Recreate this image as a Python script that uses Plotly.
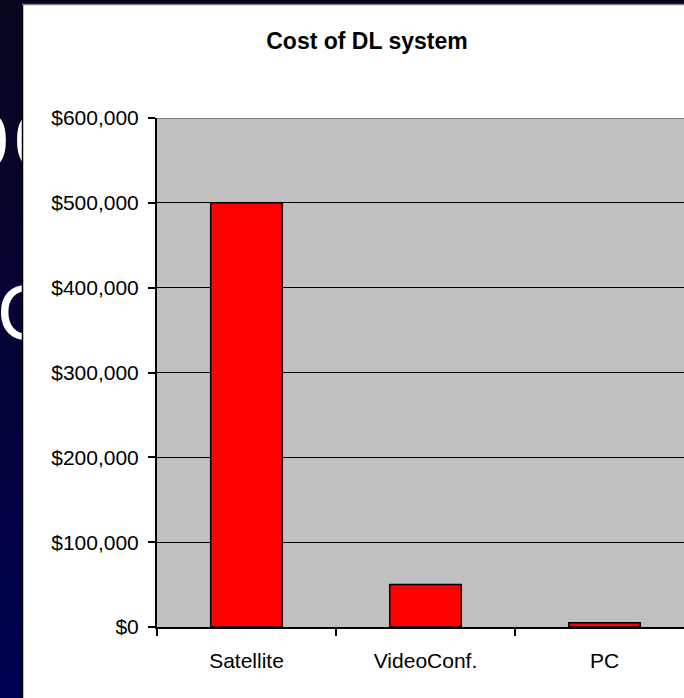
import plotly.graph_objects as go

# Chart data
categories = ["Satellite", "VideoConf.", "PC"]
costs = [500000, 50000, 5000]
y_ticks = [0, 100000, 200000, 300000, 400000, 500000, 600000]
y_tick_labels = ["$0", "$100,000", "$200,000", "$300,000",
                 "$400,000", "$500,000", "$600,000"]

# Slide backdrop: navy gradient strip and partly hidden slide text
strip_rows = list(range(0, 700, 2))
strip_levels = [r / 698 for r in strip_rows]
slide_text = ["0", "0", "C"]
slide_text_x = [9, 14, -3]
slide_text_y = [147, 147, 319]
slide_text_pos = ["middle left", "middle right", "middle right"]

W, H = 684, 698


def px(x):
    return x / W


def py(y):
    return 1 - y / H


fig = go.Figure()

fig.add_trace(go.Bar(
    x=categories,
    y=costs,
    marker=dict(color="#FF0000", line=dict(color="#000000", width=1.5)),
    width=0.4,
    xaxis="x",
    yaxis="y",
    hoverinfo="x+y",
))

fig.add_trace(go.Heatmap(
    z=[[v] for v in strip_levels],
    x0=11, dx=22,
    y=strip_rows,
    colorscale=[[0, "#07061E"], [0.5, "#040436"], [1, "#000052"]],
    showscale=False,
    xaxis="x2",
    yaxis="y2",
    hoverinfo="skip",
))

fig.add_trace(go.Scatter(
    x=slide_text_x,
    y=slide_text_y,
    mode="text",
    text=slide_text,
    textposition=slide_text_pos,
    textfont=dict(family="Liberation Sans", size=78, color="#FFFFFF"),
    cliponaxis=True,
    xaxis="x2",
    yaxis="y2",
    hoverinfo="skip",
))

fig.update_layout(
    template="none",
    width=W,
    height=H,
    autosize=False,
    margin=dict(l=0, r=0, t=0, b=0, pad=0),
    paper_bgcolor="#FFFFFF",
    plot_bgcolor="#C0C0C0",
    showlegend=False,
    font=dict(family="Liberation Sans", size=21, color="#000000"),
    title=dict(
        text="<b>Cost of DL system</b>",
        x=px(367), xref="paper", xanchor="center",
        y=py(41), yref="paper", yanchor="middle",
        font=dict(family="Liberation Sans", size=23, color="#000000"),
        automargin=False,
    ),
    xaxis=dict(
        domain=[px(157), 1],
        type="category",
        range=[-0.5, -0.5 + (W - 157) / 179],
        automargin=False,
        tickson="boundaries",
        ticks="outside",
        ticklen=7,
        tickwidth=2,
        tickcolor="#000000",
        showline=True,
        linecolor="#000000",
        linewidth=2,
        showgrid=False,
        zeroline=False,
        ticklabelstandoff=14,
        tickfont=dict(size=21),
    ),
    yaxis=dict(
        domain=[py(627), py(118)],
        range=[0, 600000],
        automargin=False,
        tickmode="array",
        tickvals=y_ticks,
        ticktext=y_tick_labels,
        ticks="outside",
        ticklen=7,
        tickwidth=2,
        tickcolor="#000000",
        showline=True,
        linecolor="#000000",
        linewidth=2,
        showgrid=True,
        gridcolor="#000000",
        gridwidth=1,
        zeroline=False,
        ticklabelstandoff=5,
        tickfont=dict(size=21),
    ),
    xaxis2=dict(
        domain=[0, px(22)],
        range=[0, 22],
        visible=False,
        fixedrange=True,
        automargin=False,
    ),
    yaxis2=dict(
        domain=[0, 1],
        range=[H, 0],
        visible=False,
        fixedrange=True,
        anchor="x2",
        automargin=False,
    ),
    shapes=[
        # dark band above the chart frame
        dict(type="rect", xref="paper", yref="paper",
             x0=0, x1=1, y0=py(4), y1=1,
             fillcolor="#07061E", line=dict(width=0), layer="above"),
        # chart frame edges
        dict(type="line", xref="paper", yref="paper",
             x0=px(22.5), x1=px(22.5), y0=0, y1=py(4),
             line=dict(color="#000000", width=1.5), layer="above"),
        dict(type="line", xref="paper", yref="paper",
             x0=px(22), x1=1, y0=py(4.5), y1=py(4.5),
             line=dict(color="#7F7F7F", width=1.5), layer="above"),
        # grey top border of the plot area
        dict(type="line", xref="paper", yref="y",
             x0=px(157), x1=1, y0=600000, y1=600000,
             line=dict(color="#808080", width=2), layer="above"),
    ],
)

fig.write_html("out.html")
